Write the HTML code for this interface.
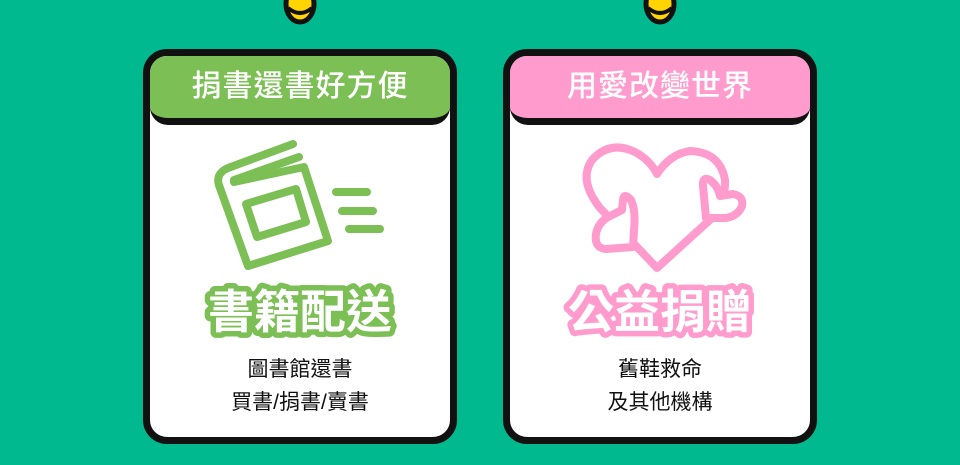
<!DOCTYPE html>
<html><head><meta charset="utf-8"><style>
html,body{margin:0;padding:0}
body{width:960px;height:465px;background:#00B98F;position:relative;overflow:hidden;font-family:"Liberation Sans","Noto Sans CJK TC",sans-serif}
.card{position:absolute;top:49px;width:300px;height:381px;border:7px solid #111;border-radius:24px;background:#fff;overflow:hidden}
.hdr{position:absolute;left:0;top:0;right:0;height:62px;border-bottom:7px solid #111;border-radius:0 0 18px 18px;color:#fff;font-size:30px;font-weight:500;text-align:center;line-height:62px;letter-spacing:1px}
.big{position:absolute;left:0;top:220px}
.sub{position:absolute;left:0;right:0;top:297px;text-align:center;font-size:21px;line-height:33px;color:#111}
.pin{position:absolute;top:-14px;width:34px;height:46px}
</style></head><body>
<svg class="pin" style="left:283px" viewBox="0 0 34 46"><ellipse cx="17" cy="18" rx="14" ry="18" fill="#FFD400" stroke="#111" stroke-width="5"/><path d="M5 22 Q17 32 29 22" fill="none" stroke="#111" stroke-width="4"/></svg>
<svg class="pin" style="left:643px" viewBox="0 0 34 46"><ellipse cx="17" cy="18" rx="14" ry="18" fill="#FFD400" stroke="#111" stroke-width="5"/><path d="M5 22 Q17 32 29 22" fill="none" stroke="#111" stroke-width="4"/></svg>

<div class="card" style="left:143px">
 <div class="hdr" style="background:#7CC055">捐書還書好方便</div>
 <svg style="position:absolute;left:-150px;top:-56px" width="600" height="400" viewBox="0 0 600 400" fill="none" stroke="#7CC055" stroke-width="8" stroke-linecap="round" stroke-linejoin="round">
  <path d="M293 144 L228 168 Q214 174 220 188"/>
  <path d="M299 157 L234 180"/>
  <path d="M220 188 L248 266 L328 241 L304 167 L234 182"/>
  <path d="M246 204 L296 189 L306 222 L257 237 Z"/>
  <line x1="336" y1="192" x2="367" y2="192"/><line x1="342" y1="211" x2="373" y2="211"/><line x1="349" y1="229" x2="380" y2="229"/>
 </svg>
 <svg class="big" width="300" height="70"><text x="150" y="52" text-anchor="middle" font-size="46" font-weight="bold" fill="#fff" stroke="#7CC055" stroke-width="11" stroke-linejoin="round" paint-order="stroke" font-family="Liberation Sans, Noto Sans CJK TC, sans-serif">書籍配送</text></svg>
 <div class="sub">圖書館還書<br>買書/捐書/賣書</div>
</div>

<div class="card" style="left:503px">
 <div class="hdr" style="background:#FF9BCD">用愛改變世界</div>
 <svg style="position:absolute;left:-510px;top:-56px" width="960" height="400" viewBox="0 0 960 400" stroke="#FF9BCD" stroke-width="8" stroke-linejoin="round">
  <path d="M657 268 L600 208 Q578 180 592 160 Q610 140 635 152 Q650 160 657 174 Q670 154 690 151 Q720 152 725 180 Q726 200 712 218 Z" fill="#fff"/>
  <path d="M606 249 Q594 248 596 234 Q598 222 610 216 L622 210 L623 200 Q624 192 631 200 Q636 210 634 230 L633 247 Z" fill="#fff"/>
  <path d="M706 218 L703 186 Q702 176 710 180 Q718 186 720 196 L733 194 Q744 196 742 206 Q738 216 726 218 Z" fill="#fff"/>
 </svg>
 <svg class="big" width="300" height="70"><text x="150" y="52" text-anchor="middle" font-size="46" font-weight="bold" fill="#fff" stroke="#FF9BCD" stroke-width="11" stroke-linejoin="round" paint-order="stroke" font-family="Liberation Sans, Noto Sans CJK TC, sans-serif">公益捐贈</text></svg>
 <div class="sub">舊鞋救命<br>及其他機構</div>
</div>
</body></html>
